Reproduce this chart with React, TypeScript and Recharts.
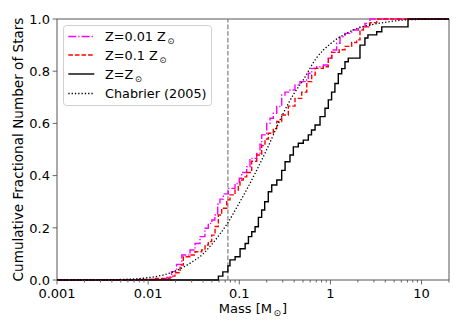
import React from 'react';
import { LineChart, Line, XAxis, YAxis, ReferenceLine, ReferenceArea, Legend } from 'recharts';

// ---- data (mass [Msun], cumulative fraction) ----
const zLowPoints: [number, number][] = [
  [0.001, 0], [0.008, 0.002], [0.0147, 0.005], [0.016, 0.01], [0.0181, 0.032], [0.0205, 0.06],
  [0.0234, 0.096], [0.0288, 0.115], [0.0327, 0.14], [0.0371, 0.166], [0.042, 0.198], [0.0457, 0.217],
  [0.05, 0.23], [0.054, 0.249], [0.058, 0.29], [0.0614, 0.31], [0.0668, 0.33], [0.0758, 0.351],
  [0.0898, 0.37], [0.1, 0.39], [0.1063, 0.412], [0.1206, 0.434], [0.1311, 0.466], [0.1553, 0.485],
  [0.1688, 0.52], [0.1762, 0.556], [0.2, 0.6], [0.2174, 0.62], [0.2363, 0.639], [0.2575, 0.665],
  [0.2921, 0.709], [0.3174, 0.72], [0.3602, 0.728], [0.4087, 0.747], [0.4637, 0.76], [0.5261, 0.766],
  [0.5719, 0.792], [0.6232, 0.811], [0.7071, 0.817], [0.8355, 0.824], [0.9479, 0.85], [1.033, 0.881],
  [1.172, 0.907], [1.274, 0.932], [1.445, 0.945], [1.712, 0.958], [2.023, 0.97], [2.395, 0.983],
  [2.719, 1.0], [20, 1.0],
];

const zMidPoints: [number, number][] = [
  [0.001, 0], [0.008, 0.002], [0.012, 0.006], [0.0174, 0.015], [0.0197, 0.028], [0.0224, 0.057],
  [0.0243, 0.089], [0.0288, 0.096], [0.0327, 0.108], [0.0387, 0.115], [0.0421, 0.134], [0.0457, 0.147],
  [0.0498, 0.172], [0.0542, 0.205], [0.0589, 0.249], [0.0641, 0.275], [0.0728, 0.307], [0.0791, 0.326],
  [0.0898, 0.345], [0.0976, 0.36], [0.1018, 0.383], [0.1107, 0.395], [0.1206, 0.412], [0.1368, 0.455],
  [0.1553, 0.479], [0.1762, 0.515], [0.1915, 0.54], [0.2082, 0.562], [0.2363, 0.58], [0.2575, 0.607],
  [0.2921, 0.632], [0.3451, 0.666], [0.4087, 0.696], [0.4841, 0.72], [0.55, 0.76], [0.6232, 0.785],
  [0.68, 0.811], [0.8355, 0.817], [0.9479, 0.85], [1.033, 0.872], [1.25, 0.882], [1.445, 0.895],
  [1.71, 0.91], [1.94, 0.92], [2.11, 0.958], [2.3, 0.97], [2.72, 0.986], [3.22, 1.0], [20, 1.0],
];

const zSunPoints: [number, number][] = [
  [0.001, 0], [0.059, 0.015], [0.066, 0.031], [0.075, 0.054], [0.079, 0.077], [0.09, 0.089],
  [0.102, 0.12], [0.116, 0.14], [0.126, 0.166], [0.137, 0.185], [0.149, 0.204], [0.162, 0.24],
  [0.176, 0.268], [0.19, 0.3], [0.208, 0.338], [0.227, 0.364], [0.258, 0.383], [0.292, 0.42],
  [0.318, 0.453], [0.36, 0.479], [0.392, 0.51], [0.444, 0.524], [0.504, 0.536], [0.572, 0.556],
  [0.62, 0.575], [0.678, 0.594], [0.769, 0.626], [0.872, 0.658], [0.948, 0.69], [1.03, 0.72],
  [1.12, 0.753], [1.22, 0.79], [1.33, 0.81], [1.445, 0.836], [1.57, 0.85], [2.11, 0.9],
  [2.39, 0.927], [2.58, 0.939], [3.22, 0.951], [3.66, 0.97], [7.1, 1.0], [20, 1.0],
];

const chabrierPoints: [number, number][] = [
  [0.001, 0], [0.003, 0.0005], [0.005, 0.002], [0.007, 0.004], [0.01, 0.009], [0.015, 0.02],
  [0.02, 0.035], [0.03, 0.068], [0.04, 0.1], [0.05, 0.137], [0.075, 0.22], [0.1, 0.295],
  [0.15, 0.41], [0.2, 0.5], [0.3, 0.635], [0.4, 0.715], [0.5, 0.765], [0.7, 0.85], [1.0, 0.905],
  [1.5, 0.945], [2, 0.965], [2.72, 0.977], [4.5, 0.99], [7, 0.997], [20, 1.0],
];

const hydrogenBurningLimit = 0.075;

const xMajorTicks = [0.001, 0.01, 0.1, 1, 10];
const xMajorLabels = ['0.001', '0.01', '0.1', '1', '10'];
const xMinorTicks = [
  0.002, 0.003, 0.004, 0.005, 0.006, 0.007, 0.008, 0.009,
  0.02, 0.03, 0.04, 0.05, 0.06, 0.07, 0.08, 0.09,
  0.2, 0.3, 0.4, 0.5, 0.6, 0.7, 0.8, 0.9,
  2, 3, 4, 5, 6, 7, 8, 9, 20,
];
const yTicks = [0, 0.2, 0.4, 0.6, 0.8, 1.0];
const yTickLabels = ['0.0', '0.2', '0.4', '0.6', '0.8', '1.0'];

const toRows = (pts: [number, number][]) => pts.map(([x, y]) => ({ x, y }));
const zLowData = toRows(zLowPoints);
const zMidData = toRows(zMidPoints);
const zSunData = toRows(zSunPoints);
const chabrierData = toRows(chabrierPoints);

const FONT = '"DejaVu Sans", sans-serif';
const AXIS = '#555';
const FS = 13;

const allXTicks = [...xMajorTicks, ...xMinorTicks].sort((a, b) => a - b);

const XTick = (props: any) => {
  const { x, y, payload } = props;
  const v = payload.value;
  const idx = xMajorTicks.findIndex((t) => Math.abs(t - v) / t < 1e-6);
  const major = idx >= 0;
  return (
    <g>
      <line x1={x} x2={x} y1={y} y2={y + (major ? 4.4 : 2.5)} stroke={AXIS} strokeWidth={0.9} />
      {major && (
        <text x={x} y={y + 17.5} textAnchor="middle" fontSize={FS} fontFamily={FONT} fill="#000">
          {xMajorLabels[idx]}
        </text>
      )}
    </g>
  );
};

const YTick = (props: any) => {
  const { x, y, payload } = props;
  const idx = yTicks.findIndex((t) => Math.abs(t - payload.value) < 1e-6);
  return (
    <g>
      <line x1={x - 4.4} x2={x} y1={y} y2={y} stroke={AXIS} strokeWidth={0.9} />
      <text x={x - 7} y={y + 4.7} textAnchor="end" fontSize={FS} fontFamily={FONT} fill="#000">
        {yTickLabels[idx >= 0 ? idx : 0]}
      </text>
    </g>
  );
};

const XLabel = (props: any) => {
  const vb = props.viewBox || { x: 57, y: 280, width: 392 };
  return (
    <text x={vb.x + vb.width / 2} y={vb.y + 33} textAnchor="middle" fontSize={FS} fontFamily={FONT} fill="#000">
      Mass [M
      <tspan fontSize={9} dx={1.5} dy={3}>⊙</tspan>
      <tspan dx={1} dy={-3}>]</tspan>
    </text>
  );
};

const YLabel = (props: any) => {
  const vb = props.viewBox || { x: 12, y: 19, width: 45, height: 261 };
  const cx = 23;
  const cy = vb.y + vb.height / 2;
  return (
    <text
      x={cx}
      y={cy}
      transform={`rotate(-90, ${cx}, ${cy})`}
      textAnchor="middle"
      fontSize={13.6}
      fontFamily={FONT}
      fill="#000"
    >
      Cumulative Fractional Number of Stars
    </text>
  );
};

const legendItems = [
  { key: 'low', text: 'Z=0.01 Z', sun: true, color: '#ff00ff', dash: '8 2 1.3 2', width: 1.4 },
  { key: 'mid', text: 'Z=0.1 Z', sun: true, color: '#ff0000', dash: '4.6 2', width: 1.4 },
  { key: 'sun', text: 'Z=Z', sun: true, color: '#000000', dash: undefined, width: 1.4 },
  { key: 'chab', text: 'Chabrier (2005)', sun: false, color: '#000000', dash: '1.3 2', width: 1.3 },
];
const legendRowY = [11.5, 30, 49, 68.5];

const renderLegend = () => (
  <svg width={150} height={82} style={{ display: 'block' }}>
    <rect x={0.5} y={0.5} width={148} height={80} rx={3} ry={3} fill="#fff" fillOpacity={0.8} stroke="#d0d0d0" strokeWidth={1} />
    {legendItems.map((it, i) => (
      <g key={it.key}>
        <line x1={5.3} x2={31.3} y1={legendRowY[i]} y2={legendRowY[i]} stroke={it.color} strokeWidth={it.width} strokeDasharray={it.dash} />
        <text x={42} y={legendRowY[i] + 4.6} fontSize={12.8} fontFamily={FONT} fill="#000">
          {it.text}
          {it.sun && <tspan fontSize={8.5} dx={1.5} dy={3}>⊙</tspan>}
        </text>
      </g>
    ))}
  </svg>
);

export default function App() {
  return (
    <div style={{ position: 'fixed', left: 0, top: 0, width: 463, height: 331, background: '#fff' }}>
      <LineChart width={463} height={331} margin={{ top: 19, right: 14, bottom: 21, left: 12 }}>
        <XAxis
          dataKey="x"
          type="number"
          scale="log"
          domain={[0.001, 20]}
          allowDataOverflow
          ticks={allXTicks}
          interval={0}
          tick={<XTick />}
          tickLine={false}
          tickSize={0}
          tickMargin={0}
          axisLine={false}
          height={30}
          label={XLabel}
        />
        <YAxis
          type="number"
          domain={[0, 1]}
          ticks={yTicks}
          interval={0}
          tick={<YTick />}
          tickLine={false}
          tickSize={0}
          tickMargin={0}
          axisLine={false}
          width={45}
          label={YLabel}
        />
        <ReferenceArea x1={0.001} x2={20} y1={0} y2={1} fill="none" stroke={AXIS} strokeWidth={1} ifOverflow="visible" />
        <ReferenceLine x={hydrogenBurningLimit} stroke="#7f7f7f" strokeWidth={1.2} strokeDasharray="4.6 2" ifOverflow="visible" />
        <Line data={zLowData} dataKey="y" type="stepAfter" stroke="#ff00ff" strokeWidth={1.4} strokeDasharray="8 2 1.3 2" dot={false} isAnimationActive={false} />
        <Line data={zMidData} dataKey="y" type="stepAfter" stroke="#ff0000" strokeWidth={1.4} strokeDasharray="4.6 2" dot={false} isAnimationActive={false} />
        <Line data={zSunData} dataKey="y" type="stepAfter" stroke="#000000" strokeWidth={1.4} dot={false} isAnimationActive={false} />
        <Line data={chabrierData} dataKey="y" type="monotone" stroke="#000000" strokeWidth={1.3} strokeDasharray="1.3 2" dot={false} isAnimationActive={false} />
        <Legend
          layout="horizontal"
          verticalAlign="middle"
          align="center"
          wrapperStyle={{ position: 'absolute', left: 63, top: 25, width: 150, height: 82 }}
          content={renderLegend}
        />
      </LineChart>
    </div>
  );
}
